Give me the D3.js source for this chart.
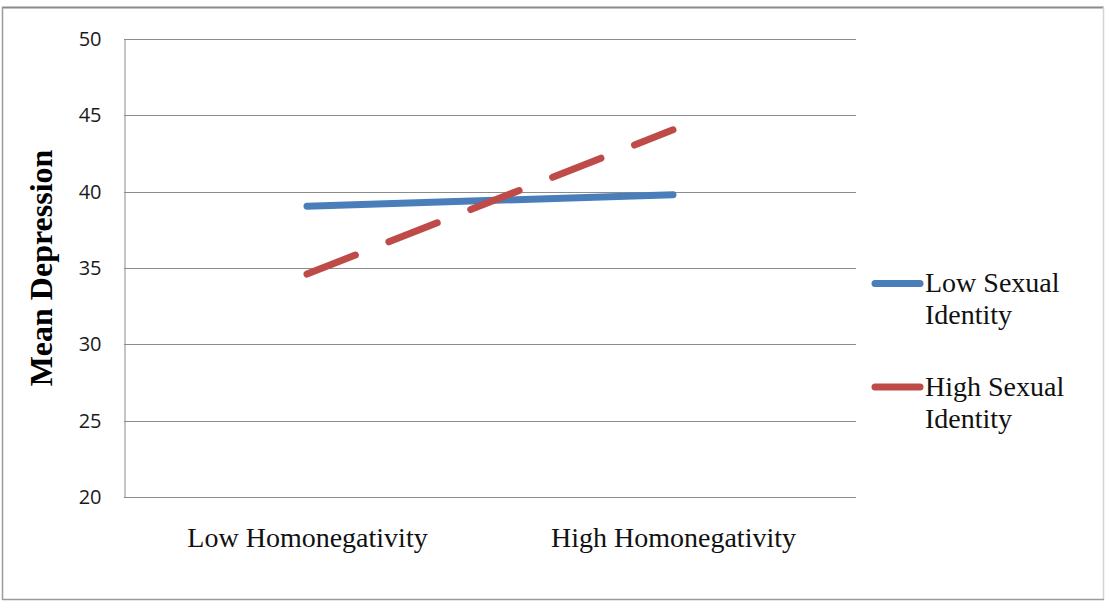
<!DOCTYPE html>
<html>
<head>
<meta charset="utf-8">
<script src="https://cdn.jsdelivr.net/npm/d3@7"></script>
<style>
html,body{margin:0;padding:0;background:#fff;}
svg{display:block;}
</style>
</head>
<body>
<svg id="chart" width="1105" height="603"></svg>
<script>
const categories = ["Low Homonegativity", "High Homonegativity"];
const lowSexualIdentity = [39.05, 39.8];
const highSexualIdentity = [34.6, 44.05];
const yTicks = [20, 25, 30, 35, 40, 45, 50];
const seriesNames = ["Low Sexual Identity", "High Sexual Identity"];

const svg = d3.select("#chart");
const W = 1105, H = 603;
const plot = {left: 124, right: 856, top: 39, bottom: 497};

// frame
svg.append("rect").attr("x",0).attr("y",0).attr("width",W).attr("height",H).attr("fill","#fff");
svg.append("line").attr("x1",2).attr("x2",1104).attr("y1",7.5).attr("y2",7.5).attr("stroke","#8a8a8a").attr("stroke-width",2);
svg.append("line").attr("x1",2.5).attr("x2",2.5).attr("y1",7).attr("y2",600).attr("stroke","#9a9a9a").attr("stroke-width",1.5);
svg.append("line").attr("x1",1103.5).attr("x2",1103.5).attr("y1",7).attr("y2",600).attr("stroke","#d4d4d4").attr("stroke-width",1.5);
svg.append("line").attr("x1",2).attr("x2",1104).attr("y1",599.5).attr("y2",599.5).attr("stroke","#9a9a9a").attr("stroke-width",1.5);

const x = d3.scalePoint().domain(categories).range([plot.left, plot.right]).padding(0.5);
const y = d3.scaleLinear().domain([20, 50]).range([plot.bottom, plot.top]);

// gridlines
svg.append("g").selectAll("line").data(yTicks).join("line")
  .attr("x1", plot.left).attr("x2", plot.right)
  .attr("y1", d => Math.round(y(d)) + 0.5).attr("y2", d => Math.round(y(d)) + 0.5)
  .attr("stroke", "#8c8c8c").attr("stroke-width", 1);

// y axis
const yAxis = d3.axisLeft(y).tickValues(yTicks).tickSize(0).tickPadding(23);
const gy = svg.append("g").attr("transform", `translate(${plot.left + 0.5},0)`).call(yAxis);
gy.select(".domain").attr("stroke", "#8c8c8c");
gy.selectAll("text").attr("font-family", "'Open Sans', sans-serif").attr("font-size", 20).attr("fill", "#1a1a1a");

// x axis labels
const xAxis = d3.axisBottom(x).tickSize(0).tickPadding(30);
const gx = svg.append("g").attr("transform", `translate(0,${plot.bottom})`).call(xAxis);
gx.select(".domain").remove();
gx.selectAll("text").attr("font-family", "'Liberation Serif', 'Times New Roman', serif").attr("font-size", 28).attr("fill", "#111");

// y title
svg.append("text")
  .attr("transform", "translate(52,268) rotate(-90)")
  .attr("text-anchor", "middle")
  .attr("font-family", "'Liberation Serif', 'Times New Roman', serif")
  .attr("font-weight", "bold").attr("font-size", 32).attr("fill", "#000")
  .text("Mean Depression");

const line = d3.line().x((d, i) => x(categories[i])).y(d => y(d));

svg.append("path").datum(lowSexualIdentity).attr("d", line)
  .attr("fill", "none").attr("stroke", "#4a7ebb").attr("stroke-width", 7).attr("stroke-linecap", "round");
svg.append("path").datum(highSexualIdentity).attr("d", line)
  .attr("fill", "none").attr("stroke", "#be4b48").attr("stroke-width", 7).attr("stroke-linecap", "round")
  .attr("stroke-dasharray", "52,36");

// legend
const legend = [
  {name: seriesNames[0], color: "#4a7ebb", lines: ["Low Sexual", "Identity"], y: 283.5},
  {name: seriesNames[1], color: "#be4b48", lines: ["High Sexual", "Identity"], y: 387}
];
legend.forEach(l => {
  svg.append("line").attr("x1", 875).attr("x2", 920).attr("y1", l.y).attr("y2", l.y)
    .attr("stroke", l.color).attr("stroke-width", 7).attr("stroke-linecap", "round");
  const t = svg.append("text").attr("x", 925).attr("y", l.y + 8.5)
    .attr("font-family", "'Liberation Serif', 'Times New Roman', serif").attr("font-size", 28).attr("fill", "#111");
  l.lines.forEach((s, i) => t.append("tspan").attr("x", 925).attr("dy", i === 0 ? 0 : 32).text(s));
});
</script>
</body>
</html>
